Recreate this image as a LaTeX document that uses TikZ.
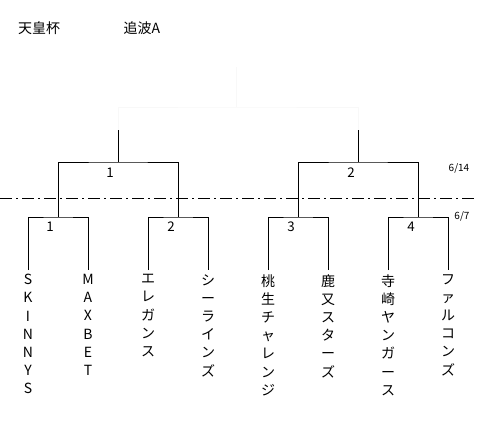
\documentclass[tikz,border=0pt]{standalone}
\usepackage{fontspec}
\setmainfont{Noto Sans CJK JP}
\usetikzlibrary{positioning}
\definecolor{faint}{HTML}{F8F8F8}

\begin{document}
\begin{tikzpicture}[x=0.75pt,y=-0.75pt]
\tikzset{team/.style={anchor=north,align=center,inner sep=3pt,font=\fontsize{10.5}{13.65}\selectfont},
  lbl/.style={font=\fontsize{10}{11}\selectfont,inner sep=1pt},
  datelbl/.style={font=\fontsize{7.5}{8}\selectfont,inner sep=1pt},
  line/.style={draw=black,line width=0.75pt},
  ghost/.style={draw=faint,line width=0.75pt}}
\useasboundingbox (0,0) rectangle (497,440);
% titles
\node[font=\fontsize{10.5}{12}\selectfont] (cup) at (39,28) {天皇杯};
\node[font=\fontsize{10.5}{12}\selectfont] (blk) at (142,28) {追波A};
% teams
\node[team] (t1) at (28,270) {S\\K\\I\\N\\N\\Y\\S};
\node[team] (t2) at (88,270) {M\\A\\X\\B\\E\\T};
\node[team] (t3) at (148,270) {エ\\レ\\ガ\\ン\\ス};
\node[team] (t4) at (208,270) {シ\\ー\\ラ\\イ\\ン\\ズ};
\node[team] (t5) at (268,270) {桃\\生\\チ\\ャ\\レ\\ン\\ジ};
\node[team] (t6) at (328,270) {鹿\\又\\ス\\タ\\ー\\ズ};
\node[team] (t7) at (388,270) {寺\\崎\\ヤ\\ン\\ガ\\ー\\ス};
\node[team] (t8) at (448,270) {フ\\ァ\\ル\\コ\\ン\\ズ};
% bracket points
\coordinate (q1) at (58,217);
\coordinate (q2) at (178,217);
\coordinate (q3) at (298,217);
\coordinate (q4) at (418,217);
\coordinate (s1) at (118,162);
\coordinate (s2) at (358,162);
\coordinate (f1) at (118,130);
\coordinate (f2) at (358,130);
\coordinate (fin) at (236,107);
\coordinate (top) at (236,67);
% first round
\draw[line] (t1.north) |- (q1) -| (t2.north);
\draw[line] (t3.north) |- (q2) -| (t4.north);
\draw[line] (t5.north) |- (q3) -| (t6.north);
\draw[line] (t7.north) |- (q4) -| (t8.north);
\node[lbl] (m1) at (50,227) {1};
\node[lbl] (m2) at (171,227) {2};
\node[lbl] (m3) at (291,227) {3};
\node[lbl] (m4) at (411,227) {4};
% semifinals
\draw[line] (q1) |- (s1) -| (q2);
\draw[line] (q3) |- (s2) -| (q4);
\draw[line] (s1) -- (f1);
\draw[line] (s2) -- (f2);
\node[lbl] (n1) at (110,173) {1};
\node[lbl] (n2) at (351,173) {2};
% final (barely visible)
\draw[ghost] (f1) |- (fin) -| (f2);
\draw[ghost] (fin) -- (top);
% dates
\coordinate (d0) at (0,198);
\coordinate (d1) at (478,198);
\draw[line,dash pattern=on 9pt off 3pt on 1.5pt off 3pt] (d0) -- (d1);
\node[datelbl] (day2) at (459,168) {6/14};
\node[datelbl] (day1) at (462,216) {6/7};
\end{tikzpicture}
\end{document}
